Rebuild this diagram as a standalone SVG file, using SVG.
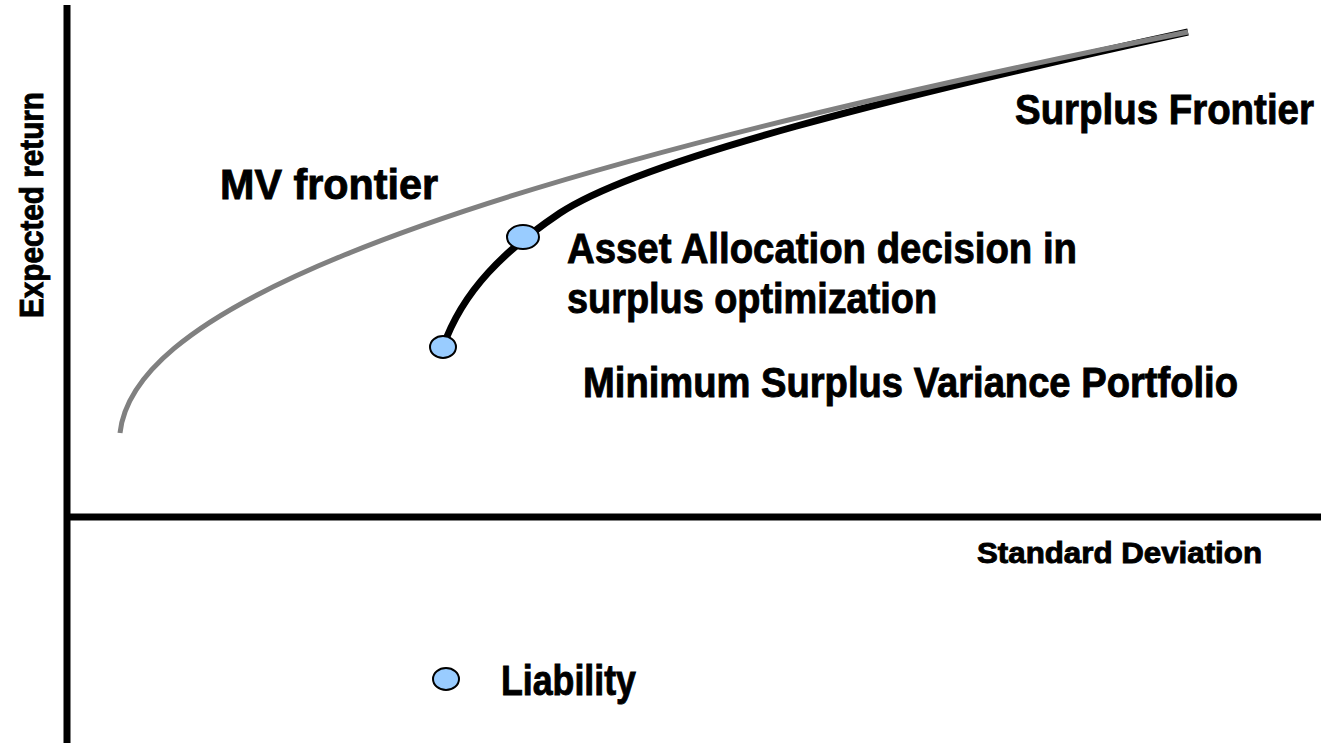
<svg xmlns="http://www.w3.org/2000/svg" width="1328" height="743" viewBox="0 0 1328 743">
<style>
.lbl{font-family:"Liberation Sans Narrow","Liberation Sans",Arial,sans-serif;font-weight:bold;fill:#000;stroke:#000;stroke-width:0.9}
.pt{fill:#99ccff;stroke:#000;stroke-width:2}
.axis{stroke:#000;stroke-width:7;fill:none}
</style>
<rect width="1328" height="743" fill="#fff"/>
<g id="axes">
<line class="axis" x1="67" y1="5" x2="67" y2="743"/>
<line class="axis" x1="64" y1="517" x2="1321" y2="517"/>
</g>
<g id="connectors">
<path id="surplus-frontier-curve" d="M443,347 C463,290 505,250 560,213 C640,160 900,95 1188,32" fill="none" stroke="#000" stroke-width="7"/>
<path id="mv-frontier-curve" d="M120,433 C132,325 350,200 1188,32" fill="none" stroke="#808080" stroke-width="5"/>
</g>
<g id="min-variance-point"><ellipse class="pt" cx="443" cy="347" rx="13" ry="11"/></g>
<g id="asset-allocation-point"><ellipse class="pt" cx="523" cy="237" rx="16" ry="12"/></g>
<g id="liability-point"><ellipse class="pt" cx="446" cy="679" rx="13" ry="11"/></g>
<g id="labels">
<text class="lbl" transform="translate(1015,124) scale(0.915,1)" x="0" y="0" font-size="42">Surplus Frontier</text>
<text class="lbl" x="220" y="199" font-size="42" textLength="218" lengthAdjust="spacingAndGlyphs">MV frontier</text>
<text class="lbl" x="567" y="263" font-size="42" textLength="510" lengthAdjust="spacingAndGlyphs">Asset Allocation decision in</text>
<text class="lbl" x="567" y="313" font-size="42" textLength="370" lengthAdjust="spacingAndGlyphs">surplus optimization</text>
<text class="lbl" x="583" y="397" font-size="42" textLength="655" lengthAdjust="spacingAndGlyphs">Minimum Surplus Variance Portfolio</text>
<text class="lbl" x="977" y="563" font-size="29" textLength="285" lengthAdjust="spacingAndGlyphs">Standard Deviation</text>
<text class="lbl" x="501" y="695" font-size="42" textLength="135" lengthAdjust="spacingAndGlyphs">Liability</text>
<text class="lbl" transform="translate(43,318) rotate(-90)" x="0" y="0" font-size="33" textLength="226" lengthAdjust="spacingAndGlyphs">Expected return</text>
</g>
</svg>
